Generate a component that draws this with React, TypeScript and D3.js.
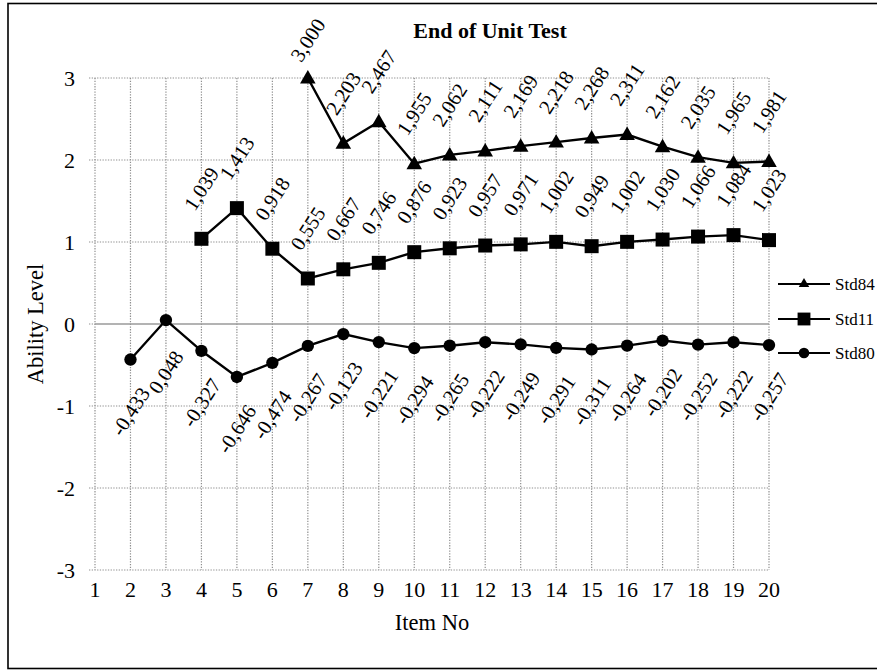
import React from "react";
import * as d3 from "d3";

const title = "End of Unit Test";
const xTitle = "Item No";
const yTitle = "Ability Level";
const xTicks = [1, 2, 3, 4, 5, 6, 7, 8, 9, 10, 11, 12, 13, 14, 15, 16, 17, 18, 19, 20];
const yTicks = [-3, -2, -1, 0, 1, 2, 3];

const std84Items = [7, 8, 9, 10, 11, 12, 13, 14, 15, 16, 17, 18, 19, 20];
const std84Values = [3.0, 2.203, 2.467, 1.955, 2.062, 2.111, 2.169, 2.218, 2.268, 2.311, 2.162, 2.035, 1.965, 1.981];
const std11Items = [4, 5, 6, 7, 8, 9, 10, 11, 12, 13, 14, 15, 16, 17, 18, 19, 20];
const std11Values = [1.039, 1.413, 0.918, 0.555, 0.667, 0.746, 0.876, 0.923, 0.957, 0.971, 1.002, 0.949, 1.002, 1.03, 1.066, 1.084, 1.023];
const std80Items = [2, 3, 4, 5, 6, 7, 8, 9, 10, 11, 12, 13, 14, 15, 16, 17, 18, 19, 20];
const std80Values = [-0.433, 0.048, -0.327, -0.646, -0.474, -0.267, -0.123, -0.221, -0.294, -0.265, -0.222, -0.249, -0.291, -0.311, -0.264, -0.202, -0.252, -0.222, -0.257];

const seriesNames = ["Std84", "Std11", "Std80"];

const FONT = "'Liberation Serif', 'Times New Roman', serif";

export default function App() {
  const W = 877;
  const H = 670;
  const x = d3.scaleLinear().domain([1, 20]).range([95, 769]);
  const y = d3.scaleLinear().domain([-3, 3]).range([570, 78]);

  const series = [
    { name: seriesNames[0], items: std84Items, values: std84Values, symbol: d3.symbolTriangle, size: 105, legendSize: 48, above: true },
    { name: seriesNames[1], items: std11Items, values: std11Values, symbol: d3.symbolSquare, size: 196, legendSize: 165, above: true },
    { name: seriesNames[2], items: std80Items, values: std80Values, symbol: d3.symbolCircle, size: 120, legendSize: 88, above: false },
  ];

  const line = d3
    .line<[number, number]>()
    .x((d) => x(d[0]))
    .y((d) => y(d[1]));

  const fmt = (v: number) => v.toFixed(3).replace(".", ",");
  const gridColor = "#8f8f8f";

  return (
    <svg width={W} height={H} style={{ position: "absolute", left: 0, top: 0, background: "#fff" }} fontFamily={FONT}>
      <rect x={8} y={3.5} width={880} height={665} fill="#fff" stroke="#000" strokeWidth={1.6} />
      <text x={490} y={38} textAnchor="middle" fontWeight="bold" fontSize={22}>
        {title}
      </text>

      {/* vertical gridlines */}
      {xTicks.map((t) => (
        <line key={"vx" + t} x1={x(t)} x2={x(t)} y1={y(3)} y2={y(-3)} stroke={gridColor} strokeWidth={1.2} strokeDasharray="1.3 1.4" />
      ))}
      {/* horizontal gridlines */}
      {yTicks.map((t) =>
        t === 0 ? (
          <g key={"hy" + t}>
            <line x1={89} x2={x(1)} y1={y(t)} y2={y(t)} stroke={gridColor} strokeWidth={1.2} strokeDasharray="1.3 1.4" />
            <line x1={x(1)} x2={x(20)} y1={y(t)} y2={y(t)} stroke="#9a9a9a" strokeWidth={1.7} />
          </g>
        ) : (
          <line key={"hy" + t} x1={89} x2={x(20)} y1={y(t)} y2={y(t)} stroke={gridColor} strokeWidth={1.2} strokeDasharray="1.3 1.4" />
        )
      )}

      {/* y tick labels */}
      {yTicks.map((t) => (
        <text key={"yl" + t} x={75} y={y(t)} textAnchor="end" dominantBaseline="central" fontSize={22}>
          {t}
        </text>
      ))}
      {/* x tick labels */}
      {xTicks.map((t) => (
        <text key={"xl" + t} x={x(t)} y={597} textAnchor="middle" fontSize={22}>
          {t}
        </text>
      ))}

      <text x={432} y={630} textAnchor="middle" fontSize={22.5}>
        {xTitle}
      </text>
      <text transform={`translate(43,324) rotate(-90)`} textAnchor="middle" fontSize={22.5}>
        {yTitle}
      </text>

      {/* series */}
      {series.map((s) => {
        const pts: [number, number][] = s.items.map((it, i) => [it, s.values[i]]);
        const sym = d3.symbol().type(s.symbol).size(s.size)();
        return (
          <g key={s.name}>
            <path d={line(pts) || ""} fill="none" stroke="#000" strokeWidth={2.4} />
            {pts.map((p, i) => (
              <path key={i} d={sym || ""} transform={`translate(${x(p[0])},${y(p[1]) + (s.symbol === d3.symbolTriangle ? 1 : 0)})`} fill="#000" />
            ))}
          </g>
        );
      })}

      {/* data labels */}
      {series.map((s) => (
        <g key={s.name + "lab"}>
          {s.items.map((it, i) => {
            const px = x(it);
            const py = y(s.values[i]);
            const cy = s.above ? Math.max(py - 50, 40) : py + 52;
            return (
              <text
                key={i}
                transform={`translate(${px},${cy}) rotate(-57)`}
                textAnchor="middle"
                dominantBaseline="central"
                fontSize={20.5}
              >
                {fmt(s.values[i])}
              </text>
            );
          })}
        </g>
      ))}

      {/* legend */}
      {series.map((s, i) => {
        const ly = [284, 319, 353][i];
        const sym = d3.symbol().type(s.symbol).size(s.legendSize)();
        return (
          <g key={s.name + "leg"}>
            <line x1={778} x2={830} y1={ly} y2={ly} stroke="#000" strokeWidth={2.2} />
            <path d={sym || ""} transform={`translate(804,${ly})`} fill="#000" />
            <text x={835} y={ly} dominantBaseline="central" fontSize={17}>
              {s.name}
            </text>
          </g>
        );
      })}
    </svg>
  );
}
